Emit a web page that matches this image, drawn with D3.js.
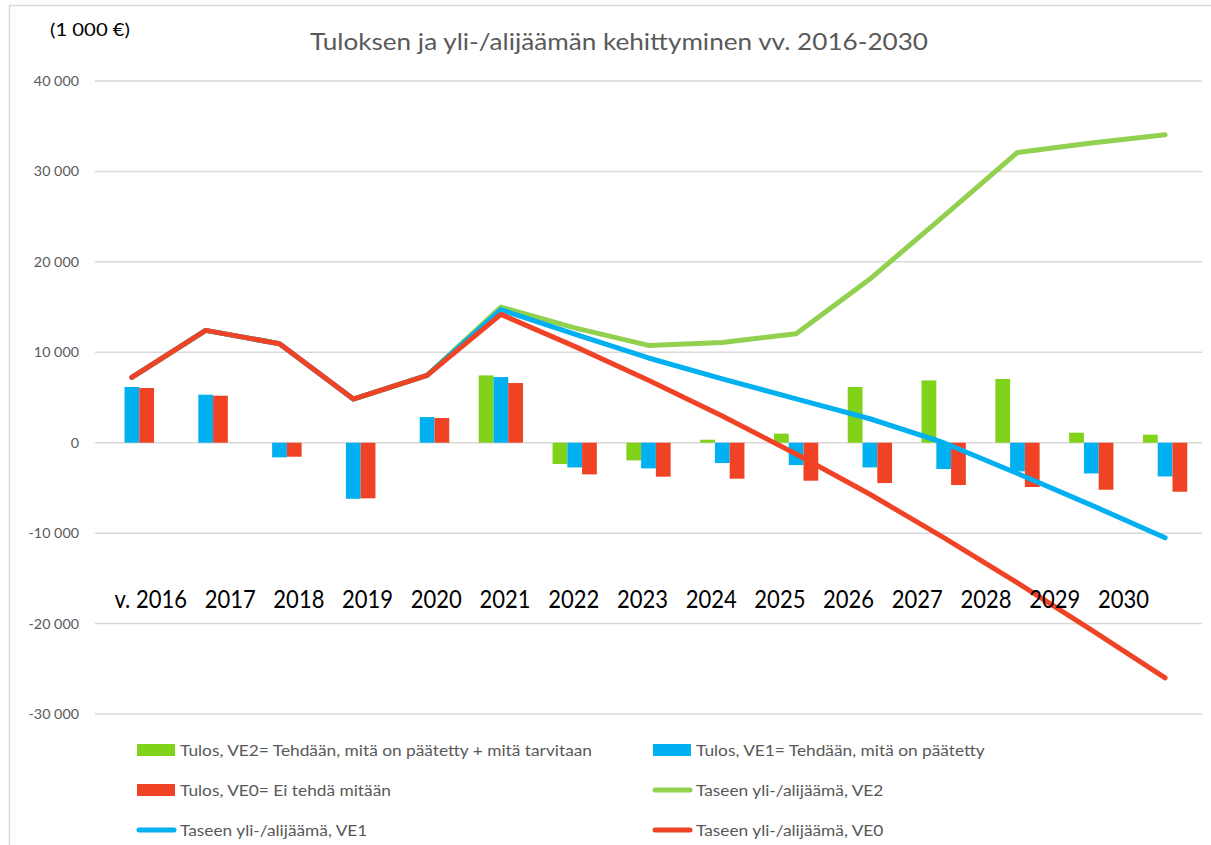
<!DOCTYPE html>
<html>
<head>
<meta charset="utf-8">
<script src="https://cdn.jsdelivr.net/npm/d3@7"></script>
<style>
  html, body { margin: 0; padding: 0; background: #fff; }
  svg { display: block; font-family: Lato, "Open Sans", sans-serif; }
</style>
</head>
<body>
<svg id="chart" width="1211" height="845"></svg>
<script>
// ---------------- DATA ----------------
const years = [2016, 2017, 2018, 2019, 2020, 2021, 2022, 2023, 2024, 2025, 2026, 2027, 2028, 2029, 2030];
const xLabels = ["v. 2016", "2017", "2018", "2019", "2020", "2021", "2022", "2023", "2024", "2025", "2026", "2027", "2028", "2029", "2030"];
const yTicks = [-30000, -20000, -10000, 0, 10000, 20000, 30000, 40000];

const tulosVE2 = [null, null, null, null, null, 7440, -2360, -1960, 330, 1000, 6160, 6890, 7050, 1110, 890];
const tulosVE1 = [6160, 5310, -1620, -6200, 2840, 7260, -2730, -2840, -2250, -2470, -2730, -2910, -3170, -3400, -3730];
const tulosVE0 = [6050, 5200, -1550, -6150, 2730, 6600, -3500, -3760, -3980, -4200, -4460, -4680, -4900, -5200, -5420];

const taseVE2 = [7220, 12420, 10950, 4830, 7440, 15000, 12700, 10760, 11090, 12050, 18100, 25050, 32100, 33150, 34050];
const taseVE1 = [7220, 12420, 10950, 4830, 7440, 14710, 12000, 9370, 7050, 4850, 2650, 0, -3400, -6900, -10500];
const taseVE0 = [7220, 12420, 10950, 4830, 7440, 14190, 10650, 6900, 2950, -1250, -5700, -10500, -15500, -20700, -26000];

const titleText = "Tuloksen ja yli-/alijäämän kehittyminen vv. 2016-2030";
const unitText = "(1 000 €)";

const barSeries = [
  { key: "VE2", label: "Tulos, VE2= Tehdään, mitä on päätetty + mitä tarvitaan", values: tulosVE2, color: "#80D21B" },
  { key: "VE1", label: "Tulos, VE1= Tehdään, mitä on päätetty", values: tulosVE1, color: "#00B0F0" },
  { key: "VE0", label: "Tulos, VE0= Ei tehdä mitään", values: tulosVE0, color: "#F04325" }
];
const lineSeries = [
  { key: "L2", label: "Taseen yli-/alijäämä, VE2", values: taseVE2, color: "#92D050" },
  { key: "L1", label: "Taseen yli-/alijäämä, VE1", values: taseVE1, color: "#00B0F0" },
  { key: "L0", label: "Taseen yli-/alijäämä, VE0", values: taseVE0, color: "#F04325" }
];

// ---------------- CHART ----------------
const svg = d3.select("#chart");
const plot = { left: 95, right: 1202, top: 81, bottom: 714 };

function squeeze(sel, k) {
  sel.each(function () {
    const L = this.getComputedTextLength();
    this.setAttribute("textLength", L * k);
    this.setAttribute("lengthAdjust", "spacingAndGlyphs");
  });
}

// outer frame
svg.append("rect")
  .attr("x", 9.5).attr("y", 5.5).attr("width", 1215).attr("height", 860)
  .attr("fill", "none").attr("stroke", "#D9D9D9").attr("stroke-width", 1.5);

const x0 = d3.scaleBand().domain(years).range([plot.left, plot.right]).padding(0);
const step = x0.step();
const x1 = d3.scaleBand().domain(barSeries.map(d => d.key)).range([step * 0.2, step * 0.8]).padding(0);
const y = d3.scaleLinear().domain([-30000, 40000]).range([plot.bottom, plot.top]);
const cx = yr => x0(yr) + step / 2;

// gridlines
svg.append("g").selectAll("line").data(yTicks).join("line")
  .attr("x1", plot.left).attr("x2", plot.right)
  .attr("y1", d => y(d)).attr("y2", d => y(d))
  .attr("stroke", "#D9D9D9").attr("stroke-width", 1.5);

// y axis labels
const fmt = d => d3.format(",")(d).replace(/,/g, " ").replace("−", "-");
const yl = svg.append("g").selectAll("text").data(yTicks).join("text")
  .attr("x", 79).attr("y", d => y(d) + 5)
  .attr("text-anchor", "end")
  .attr("fill", "#595959")
  .style("font-size", "13.5px")
  .text(fmt);
squeeze(yl, 1.06);

// bars
barSeries.forEach(s => {
  svg.append("g").selectAll("rect")
    .data(years.map((yr, i) => ({ yr, v: s.values[i] })).filter(d => d.v !== null))
    .join("rect")
    .attr("x", d => x0(d.yr) + x1(s.key))
    .attr("width", x1.bandwidth())
    .attr("y", d => y(Math.max(0, d.v)))
    .attr("height", d => Math.abs(y(d.v) - y(0)))
    .attr("fill", s.color);
});

// lines
const line = d3.line().x((d, i) => cx(years[i])).y(d => y(d));
lineSeries.forEach(s => {
  svg.append("path")
    .attr("d", line(s.values))
    .attr("fill", "none")
    .attr("stroke", s.color)
    .attr("stroke-width", 5)
    .attr("stroke-linejoin", "round")
    .attr("stroke-linecap", "round");
});

// x labels (text row, right-aligned)
const xl = d3.scalePoint().domain(xLabels).range([187, 1149]);
const xt = svg.append("g").selectAll("text").data(xLabels).join("text")
  .attr("x", d => xl(d)).attr("y", 608)
  .attr("text-anchor", "end")
  .attr("fill", "#000")
  .style("font-size", "25px")
  .text(d => d);
squeeze(xt, 0.88);

// title
const tt = svg.append("text")
  .attr("x", 619).attr("y", 50)
  .attr("text-anchor", "middle")
  .attr("fill", "#595959")
  .style("font-size", "23px")
  .text(titleText);
squeeze(tt, 618 / tt.node().getComputedTextLength());

const ut = svg.append("text")
  .attr("x", 50).attr("y", 36)
  .attr("fill", "#000")
  .style("font-size", "18px")
  .text(unitText);
squeeze(ut, 80 / ut.node().getComputedTextLength());

// legend
const legendItems = [
  { ...barSeries[0], type: "bar" }, { ...barSeries[1], type: "bar" },
  { ...barSeries[2], type: "bar" }, { ...lineSeries[0], type: "line" },
  { ...lineSeries[1], type: "line" }, { ...lineSeries[2], type: "line" }
];
const colX = [137, 653];
const rowY = [750, 790, 830];
const lg = svg.append("g");
const lItems = lg.selectAll("g").data(legendItems).join("g")
  .attr("transform", (d, i) => `translate(${colX[i % 2]},${rowY[Math.floor(i / 2)]})`);
lItems.filter(d => d.type === "bar").append("rect")
  .attr("x", 0).attr("y", -6).attr("width", 38).attr("height", 12)
  .attr("fill", d => d.color);
lItems.filter(d => d.type === "line").append("line")
  .attr("x1", 2).attr("x2", 37).attr("y1", 0).attr("y2", 0)
  .attr("stroke", d => d.color).attr("stroke-width", 5).attr("stroke-linecap", "round");
const lt = lItems.append("text")
  .attr("x", 43).attr("y", 5.5)
  .attr("fill", "#595959")
  .style("font-size", "16px")
  .text(d => d.label);
const kL = 412 / lt.nodes()[0].getComputedTextLength();
squeeze(lt, kL);
</script>
</body>
</html>
